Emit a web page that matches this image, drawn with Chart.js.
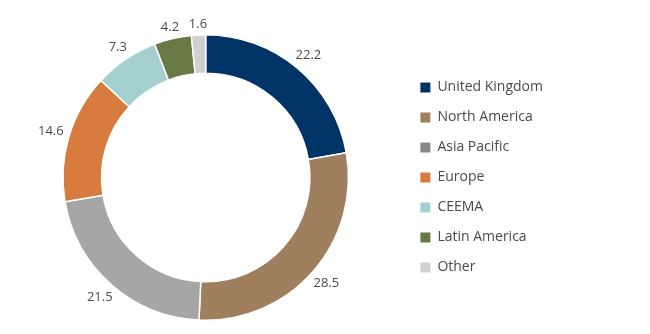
<!DOCTYPE html>
<html>
<head>
<meta charset="utf-8">
<script src="https://cdn.jsdelivr.net/npm/chart.js@4.4.0/dist/chart.umd.min.js"></script>
<style>
  html, body { margin: 0; padding: 0; background: #fff; }
  #wrap { width: 650px; height: 334px; }
</style>
</head>
<body>
<div id="wrap"><canvas id="myChart" width="650" height="334"></canvas></div>
<script>
const regions = ['United Kingdom', 'North America', 'Asia Pacific', 'Europe', 'CEEMA', 'Latin America', 'Other']
const shares = [22.2, 28.5, 21.5, 14.6, 7.3, 4.2, 1.6]
const sliceColors = ['#003466', '#a07f5e', '#a6a6a6', '#d77c3e', '#a4d0d0', '#677a44', '#d0d0d0']
const legendColors = ['#003466', '#a07f5e', '#88888a', '#d77c3e', '#a4d0d0', '#677a44', '#d0d0d0']

const FONT = '"Open Sans", sans-serif'
const TEXT = '#4a4a4a'

// value labels just outside each slice, box kept a small gap off the ring
const outsideLabels = {
  id: 'outsideLabels',
  afterDatasetsDraw(chart) {
    const ctx = chart.ctx
    const meta = chart.getDatasetMeta(0)
    ctx.save()
    ctx.font = '13px ' + FONT
    ctx.fillStyle = TEXT
    ctx.textAlign = 'center'
    ctx.textBaseline = 'middle'
    meta.data.forEach(function(arc, i) {
      const p = arc.getProps(['x', 'y', 'startAngle', 'endAngle', 'outerRadius'], true)
      const mid = (p.startAngle + p.endAngle) / 2
      const txt = shares[i].toFixed(1)
      const hw = ctx.measureText(txt).width / 2
      const ext = hw * Math.abs(Math.cos(mid)) + 5 * Math.abs(Math.sin(mid))
      const r = p.outerRadius + 5 + ext
      ctx.fillText(txt, p.x + Math.cos(mid) * r, p.y + Math.sin(mid) * r)
    })
    ctx.restore()
  }
}

const ctx = document.getElementById('myChart')
new Chart(ctx, {
  type: 'doughnut',
  data: {
    labels: regions,
    datasets: [{
      data: shares,
      backgroundColor: sliceColors,
      borderColor: '#ffffff',
      borderWidth: 1.5,
      hoverOffset: 0
    }]
  },
  options: {
    responsive: false,
    animation: false,
    cutout: '73%',
    layout: {
      padding: { left: 7, right: 97, top: 34, bottom: 13 }
    },
    plugins: {
      tooltip: { enabled: false },
      legend: {
        position: 'right',
        align: 'center',
        labels: {
          boxWidth: 10,
          boxHeight: 10,
          padding: 16,
          color: TEXT,
          font: { family: FONT, size: 14 },
          generateLabels: function(chart) {
            return regions.map(function(name, i) {
              return {
                text: name,
                fillStyle: legendColors[i],
                strokeStyle: legendColors[i],
                lineWidth: 0,
                fontColor: TEXT,
                index: i
              }
            })
          }
        }
      }
    }
  },
  plugins: [outsideLabels]
})
</script>
</body>
</html>
